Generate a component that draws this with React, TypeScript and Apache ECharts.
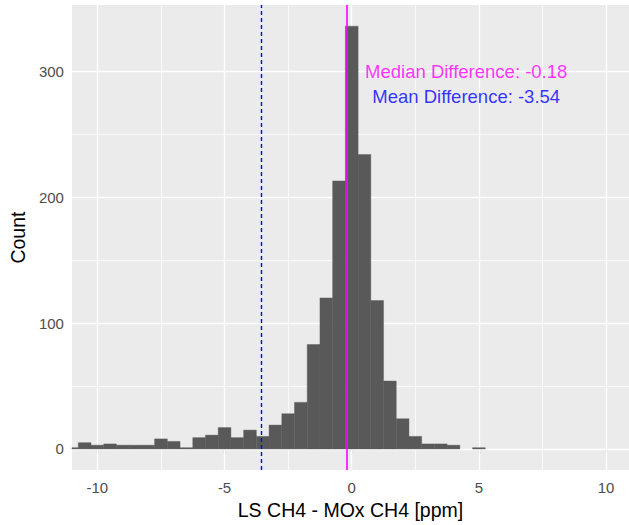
import React, { useEffect, useRef } from "react";
import * as echarts from "echarts";

const binCenters = [-11, -10.5, -10, -9.5, -9, -8.5, -8, -7.5, -7, -6.5, -6, -5.5, -5, -4.5, -4, -3.5, -3, -2.5, -2, -1.5, -1, -0.5, 0, 0.5, 1, 1.5, 2, 2.5, 3, 3.5, 4, 4.5, 5];
const binCounts = [1, 5, 3, 4, 3, 3, 3, 8, 6, 1, 9, 11, 17, 9, 15, 10, 19, 28, 37, 83, 120, 213, 336, 234, 118, 54, 24, 10, 4, 4, 3, 0, 1];
const binWidth = 0.5;

const xMajorTicks = [-10, -5, 0, 5, 10];
const xMinorTicks = [-7.5, -2.5, 2.5, 7.5];
const yMajorTicks = [0, 100, 200, 300];
const yMinorTicks = [50, 150, 250];

const medianDiff = -0.18;
const meanDiff = -3.54;
const medianLabel = "Median Difference: -0.18";
const meanLabel = "Mean Difference: -3.54";
const medianLabelPos = [4.5, 300];
const meanLabelPos = [4.5, 280];

const FONT = "'Liberation Sans', Arial, Helvetica, sans-serif";

export default function App() {
  const ref = useRef<HTMLDivElement>(null);
  useEffect(() => {
    if (!ref.current) return;
    const chart = echarts.init(ref.current, null, { renderer: "svg" });
    const gridLines: any[] = [];
    xMajorTicks.forEach((v) => gridLines.push({ xAxis: v, lineStyle: { color: "#FFFFFF", width: 1.3, type: "solid", opacity: 1 } }));
    xMinorTicks.forEach((v) => gridLines.push({ xAxis: v, lineStyle: { color: "#FFFFFF", width: 0.7, type: "solid", opacity: 1 } }));
    yMajorTicks.forEach((v) => gridLines.push({ yAxis: v, lineStyle: { color: "#FFFFFF", width: 1.3, type: "solid", opacity: 1 } }));
    yMinorTicks.forEach((v) => gridLines.push({ yAxis: v, lineStyle: { color: "#FFFFFF", width: 0.7, type: "solid", opacity: 1 } }));

    const labelBase = {
      show: true,
      position: "inside",
      fontFamily: FONT,
      fontSize: 18.5,
      textBorderWidth: 0,
      textBorderColor: "transparent",
      textShadowBlur: 0,
    };

    chart.setOption({
      animation: false,
      grid: {
        left: 66,
        right: 0,
        top: 5,
        bottom: 51,
        show: true,
        backgroundColor: "#EBEBEB",
        borderWidth: 0,
      },
      xAxis: {
        type: "value",
        min: -11,
        max: 10.9,
        name: "LS CH4 - MOx CH4 [ppm]",
        nameLocation: "middle",
        nameGap: 27,
        nameTextStyle: { fontFamily: FONT, fontSize: 19.5, color: "#000" },
        axisLine: { show: false },
        axisTick: { show: true, length: 4, lineStyle: { color: "#333333", width: 1.1 }, customValues: xMajorTicks },
        axisLabel: { margin: 10, fontFamily: FONT, fontSize: 15, color: "#4D4D4D", customValues: xMajorTicks },
        splitLine: { show: false },
      },
      yAxis: {
        type: "value",
        min: -16.8,
        max: 352.8,
        name: "Count",
        nameLocation: "middle",
        nameGap: 41,
        nameTextStyle: { fontFamily: FONT, fontSize: 19.5, color: "#000" },
        axisLine: { show: false },
        axisTick: { show: true, length: 4, lineStyle: { color: "#333333", width: 1.1 }, customValues: yMajorTicks },
        axisLabel: { margin: 8, fontFamily: FONT, fontSize: 15, color: "#4D4D4D", customValues: yMajorTicks },
        splitLine: { show: false },
      },
      series: [
        {
          type: "scatter",
          data: [[0, 0]],
          symbolSize: 0,
          silent: true,
          z: 1,
          markLine: {
            z: 1,
            silent: true,
            symbol: ["none", "none"],
            label: { show: false },
            lineStyle: { color: "#FFFFFF", type: "solid", opacity: 1 },
            emphasis: { disabled: true },
            data: gridLines,
          },
        },
        {
          type: "custom",
          z: 2,
          clip: true,
          silent: true,
          data: binCenters.map((c, i) => [c, binCounts[i]]),
          renderItem: (params: any, api: any) => {
            const c = api.value(0);
            const n = api.value(1);
            if (!n) return null;
            const p0 = api.coord([c - binWidth / 2, 0]);
            const p1 = api.coord([c + binWidth / 2, n]);
            const rect = {
              x: p0[0],
              y: p1[1],
              width: p1[0] - p0[0],
              height: p0[1] - p1[1],
            };
            const clipped = echarts.graphic.clipRectByRect(rect, {
              x: params.coordSys.x,
              y: params.coordSys.y,
              width: params.coordSys.width,
              height: params.coordSys.height,
            });
            if (!clipped) return null;
            return { type: "rect", shape: clipped, style: { fill: "#595959", stroke: "#595959", lineWidth: 0.4 } };
          },
        },
        {
          type: "scatter",
          data: [[0, 0]],
          symbolSize: 0,
          silent: true,
          z: 5,
          markLine: {
            z: 5,
            silent: true,
            symbol: ["none", "none"],
            label: { show: false },
            emphasis: { disabled: true },
            data: [
              { xAxis: meanDiff, lineStyle: { color: "#0000FF", width: 1.4, type: [4, 3], opacity: 1 } },
              { xAxis: medianDiff, lineStyle: { color: "#FF00FF", width: 1.6, type: "solid", opacity: 1 } },
            ],
          },
        },
        {
          type: "scatter",
          z: 6,
          silent: true,
          symbolSize: 0,
          itemStyle: { color: "#FF00FF" },
          data: [medianLabelPos],
          label: { ...labelBase, formatter: medianLabel, color: "#FF00FF" },
        },
        {
          type: "scatter",
          z: 6,
          silent: true,
          symbolSize: 0,
          itemStyle: { color: "#0000FF" },
          data: [meanLabelPos],
          label: { ...labelBase, formatter: meanLabel, color: "#0000FF" },
        },
      ],
    });
    return () => chart.dispose();
  }, []);
  return <div ref={ref} style={{ position: "absolute", left: 0, top: 0, width: 629, height: 525 }} />;
}
